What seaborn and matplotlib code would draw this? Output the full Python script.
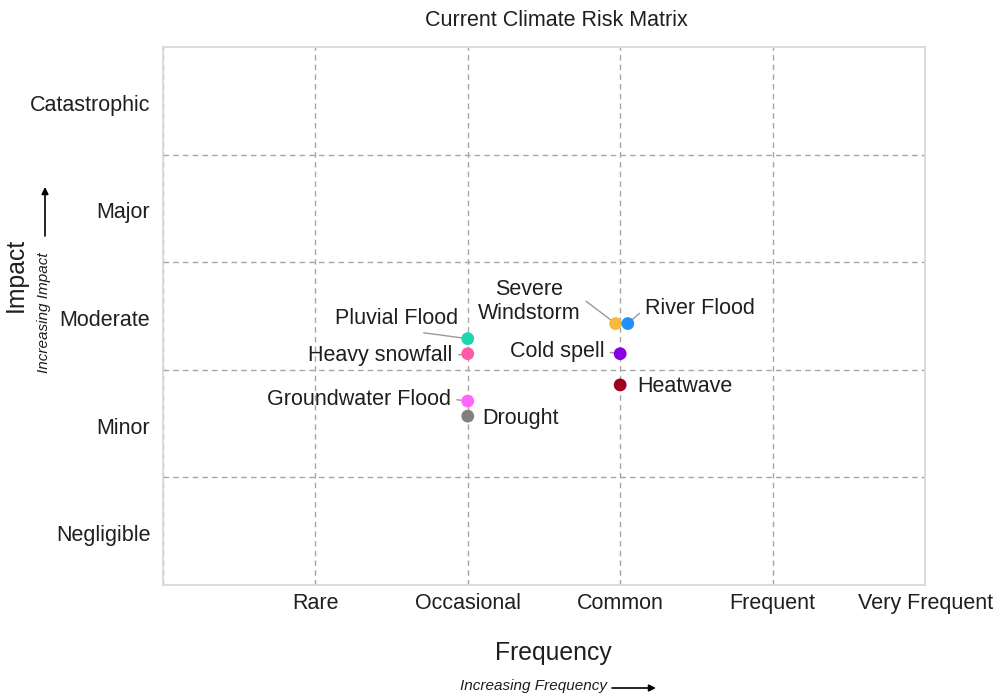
import matplotlib
matplotlib.use("Agg")
import matplotlib.pyplot as plt
import matplotlib.transforms as mtransforms
import seaborn as sns
import pandas as pd

# Hazards and their position in the risk matrix
hazards = ["Pluvial Flood", "Heavy snowfall", "Groundwater Flood", "Drought",
           "Severe\nWindstorm", "River Flood", "Cold spell", "Heatwave"]
frequency = [2.0, 2.0, 2.0, 2.0, 2.97, 3.05, 3.0, 3.0]
impact = [2.29, 2.15, 1.71, 1.57, 2.43, 2.43, 2.15, 1.86]
colors = ["#1DD6B0", "#FF5CA8", "#FF66FF", "#808080",
          "#F9B93C", "#1E90FF", "#8A00E0", "#A00020"]

freq_labels = ["", "Rare", "Occasional", "Common", "Frequent", "Very Frequent"]
impact_labels = ["Negligible", "Minor", "Moderate", "Major", "Catastrophic"]

# Label placement: (dx, dy) in pixels, alignment, leader line anchor (None = no line)
label_layout = {
    "Pluvial Flood": ((-10, 20), "right", (0.5, 0.0)),
    "Heavy snowfall": ((-15, -2), "right", (1.0, 0.5)),
    "Groundwater Flood": ((-17, 2), "right", (1.0, 0.5)),
    "Drought": ((15, -2), "left", None),
    "Severe\nWindstorm": ((-35, 22), "right", (1.0, 0.6)),
    "River Flood": ((17, 15), "left", (0.0, 0.5)),
    "Cold spell": ((-16, 2), "right", (1.0, 0.5)),
    "Heatwave": ((17, -2), "left", None),
}

df = pd.DataFrame({"hazard": hazards, "frequency": frequency, "impact": impact})

sns.set_theme(style="white")
plt.rcParams["font.family"] = ["Liberation Sans", "DejaVu Sans"]
text_color = "#1f1f1f"

fig = plt.figure(figsize=(9.99, 6.99), dpi=100)
ax = fig.add_axes([0.163, 0.163, 0.763, 0.7697])

sns.scatterplot(data=df, x="frequency", y="impact", hue="hazard",
                palette=dict(zip(hazards, colors)), s=85, linewidth=0,
                legend=False, ax=ax, zorder=4)

ax.set_xlim(0, 5)
ax.set_ylim(0, 5)

# X axis: frequency classes on the grid lines
ax.set_xticks(range(len(freq_labels)))
ax.set_xticklabels(freq_labels, fontsize=15.5, color=text_color)
ax.tick_params(axis="x", length=5, width=1, color="#bfbfbf", pad=1)

# Y axis: impact classes in the middle of each band, grid between bands
ax.set_yticks([i + 0.5 for i in range(len(impact_labels))])
ax.set_yticklabels(impact_labels, fontsize=15.5, color=text_color)
ax.set_yticks(range(1, len(impact_labels)), minor=True)
ax.tick_params(axis="y", which="both", length=0, pad=9)
nudge = mtransforms.ScaledTranslation(0, -2 / 100, fig.dpi_scale_trans)
for lbl in ax.get_yticklabels():
    lbl.set_transform(lbl.get_transform() + nudge)

grid_kw = dict(color="#a6a6a6", linestyle=(0, (4, 3)), linewidth=1)
ax.grid(False)
ax.xaxis.grid(True, which="major", **grid_kw)
ax.yaxis.grid(True, which="minor", **grid_kw)
ax.set_axisbelow(True)

for sp in ax.spines.values():
    sp.set_color("#d9d9d9")
    sp.set_linewidth(1.3)

ax.set_xlabel("")
ax.set_ylabel("")

# Point labels with leader lines (drawn under the points)
for name, fx, iy in zip(hazards, frequency, impact):
    (dx, dy), ha, rel = label_layout[name]
    arrow = None
    if rel is not None:
        arrow = dict(arrowstyle="-", color="#999999", lw=1, relpos=rel,
                     shrinkA=2, shrinkB=3)
    ax.annotate(name, xy=(fx, iy), xytext=(dx, dy), textcoords="offset pixels",
                ha=ha, va="center", fontsize=15.5, color=text_color,
                multialignment="center", arrowprops=arrow, zorder=3)

ax.set_title("Current Climate Risk Matrix", fontsize=15.5, color=text_color,
             x=0.516, pad=15)

# Axis titles and direction hints
W, H = 999, 699
fig.text(553 / W, 1 - 653 / H, "Frequency", ha="center", va="center",
         fontsize=17.8, color=text_color)
fig.text(16 / W, 1 - 275 / H, "Impact", ha="center", va="center",
         rotation=90, fontsize=17.8, color=text_color)
fig.text(534 / W, 1 - 686 / H, "Increasing Frequency", ha="center", va="center",
         fontsize=11, style="italic", color=text_color)
fig.text(44 / W, 1 - 313 / H, "Increasing Impact", ha="center", va="center",
         rotation=90, fontsize=11, style="italic", color=text_color)

arrow_kw = dict(arrowstyle="-|>", color="black", lw=1.2, mutation_scale=10,
                shrinkA=0, shrinkB=0)
fig.add_artist(matplotlib.patches.FancyArrowPatch(
    (612 / W, 1 - 688 / H), (656 / W, 1 - 688 / H),
    transform=fig.transFigure, **arrow_kw))
fig.add_artist(matplotlib.patches.FancyArrowPatch(
    (45 / W, 1 - 236 / H), (45 / W, 1 - 187 / H),
    transform=fig.transFigure, **arrow_kw))

fig.savefig("out.png", dpi=100)
